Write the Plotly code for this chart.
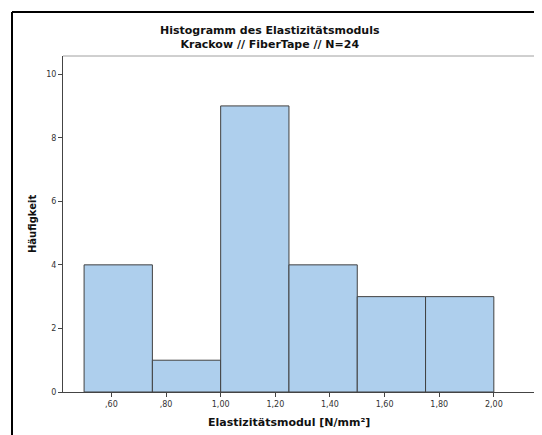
import plotly.graph_objects as go

bin_edges = [0.50, 0.75, 1.00, 1.25, 1.50, 1.75, 2.00]
counts = [4, 1, 9, 4, 3, 3]
x_tick_vals = [0.6, 0.8, 1.0, 1.2, 1.4, 1.6, 1.8, 2.0]
x_tick_text = [",60", ",80", "1,00", "1,20", "1,40", "1,60", "1,80", "2,00"]
y_tick_vals = [0, 2, 4, 6, 8, 10]

centers = [(a + b) / 2 for a, b in zip(bin_edges[:-1], bin_edges[1:])]
widths = [b - a for a, b in zip(bin_edges[:-1], bin_edges[1:])]

# page offset of the figure (browser body margin)
OFF = 8
W, H = 542 - OFF, 435 - OFF
# plot area in page pixels
PL, PR, PT, PB = 63, 537, 56, 392
L, R, T, B = PL - OFF, W - (PR - OFF), PT - OFF, H - (PB - OFF)
pw, ph = PR - PL, PB - PT


def px_x(x):
    return (x - PL) / pw


def px_y(y):
    return (PB - y) / ph


fig = go.Figure(go.Bar(
    x=centers, y=counts, width=widths,
    marker=dict(color="#AECFED", line=dict(color="#404040", width=1)),
    hoverinfo="x+y",
))

font = "DejaVu Sans, Verdana, sans-serif"

fig.update_layout(
    width=W, height=H,
    margin=dict(l=L, r=R, t=T, b=B),
    paper_bgcolor="white", plot_bgcolor="white",
    showlegend=False,
    annotations=[
        dict(text="<b>Histogramm des Elastizitätsmoduls<br>Krackow // FiberTape // N=24</b>",
             xref="paper", yref="paper", x=px_x(270), y=px_y(38),
             xanchor="center", yanchor="middle", showarrow=False,
             font=dict(family=font, size=11, color="#111")),
        dict(text="<b>Elastizitätsmodul [N/mm²]</b>", xref="paper", yref="paper",
             x=px_x(289), y=px_y(423), xanchor="center", yanchor="middle",
             showarrow=False, font=dict(family=font, size=11, color="#111")),
        dict(text="<b>Häufigkeit</b>", xref="paper", yref="paper",
             x=px_x(32), y=px_y(224), xanchor="center", yanchor="middle", textangle=-90,
             showarrow=False, font=dict(family=font, size=10, color="#111")),
    ],
    xaxis=dict(
        range=[0.4228, 2.158], tickvals=x_tick_vals, ticktext=x_tick_text,
        showgrid=False, zeroline=False,
        showline=True, linecolor="#444", linewidth=1,
        ticks="outside", ticklen=4, tickcolor="#444",
        tickfont=dict(family=font, size=8, color="#333"),
    ),
    yaxis=dict(
        range=[0, 10.57], tickvals=y_tick_vals,
        showgrid=False, zeroline=False,
        showline=True, linecolor="#444", linewidth=1,
        ticks="outside", ticklen=4, tickcolor="#444",
        tickfont=dict(family=font, size=8, color="#333"),
    ),
    shapes=[
        # plot frame top (light) and right (dark)
        dict(type="line", xref="paper", yref="paper", x0=0, x1=1, y0=1, y1=1,
             line=dict(color="#a0a0a0", width=1)),
        dict(type="line", xref="paper", yref="paper", x0=1, x1=1, y0=0, y1=1,
             line=dict(color="#555", width=1)),
        # outer chart frame
        dict(type="line", xref="paper", yref="paper",
             x0=px_x(12), x1=px_x(12), y0=px_y(12), y1=px_y(440),
             line=dict(color="black", width=2)),
        dict(type="line", xref="paper", yref="paper",
             x0=px_x(12), x1=px_x(545), y0=px_y(12), y1=px_y(12),
             line=dict(color="black", width=2)),
    ],
)

fig.write_html("out.html")
